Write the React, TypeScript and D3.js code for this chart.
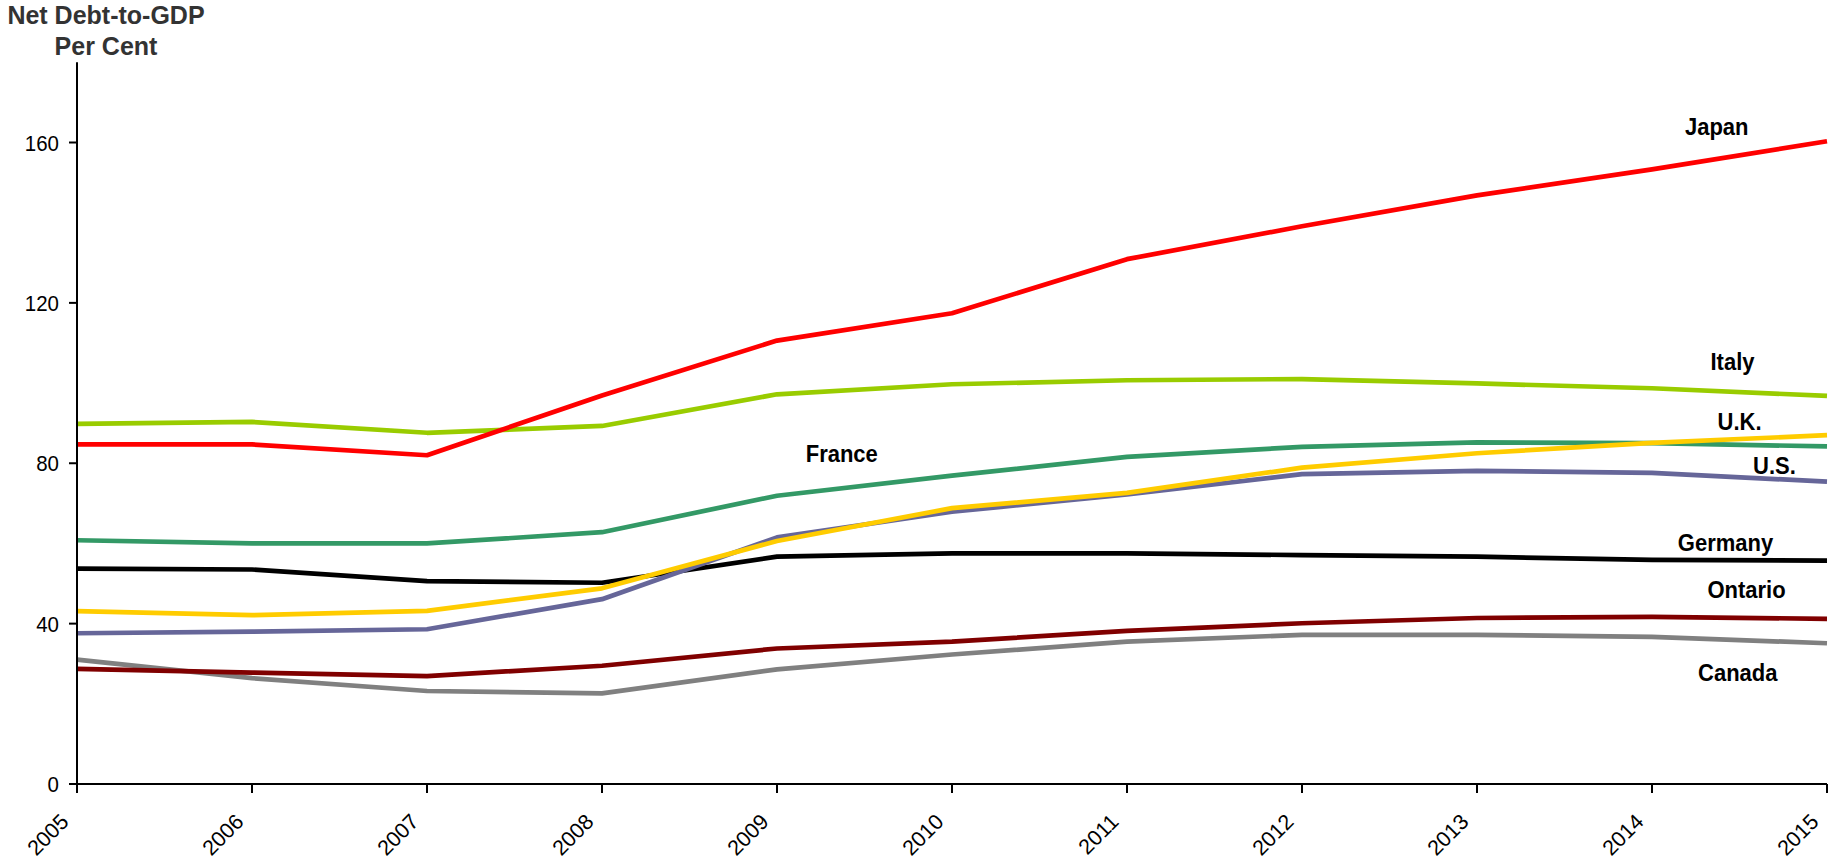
import React from "react";
import * as d3 from "d3";

// Net debt-to-GDP, per cent of GDP, 2005–2015
const years = [2005, 2006, 2007, 2008, 2009, 2010, 2011, 2012, 2013, 2014, 2015];

const canada = [31.0, 26.4, 23.2, 22.6, 28.6, 32.3, 35.5, 37.2, 37.2, 36.7, 35.1];
const ontario = [28.7, 27.8, 26.9, 29.5, 33.8, 35.5, 38.2, 40.1, 41.4, 41.7, 41.2];
const germany = [53.7, 53.5, 50.6, 50.2, 56.7, 57.5, 57.5, 57.1, 56.7, 55.9, 55.7];
const us = [37.6, 38.0, 38.6, 46.1, 61.5, 67.9, 72.2, 77.3, 78.1, 77.6, 75.4];
const france = [60.8, 60.0, 60.0, 62.8, 71.9, 76.9, 81.6, 84.1, 85.2, 85.0, 84.2];
const uk = [43.1, 42.1, 43.2, 48.8, 60.6, 68.8, 72.6, 78.9, 82.5, 85.1, 87.0];
const italy = [89.8, 90.3, 87.6, 89.3, 97.2, 99.7, 100.7, 101.0, 99.9, 98.7, 96.8];
const japan = [84.7, 84.7, 82.0, 96.9, 110.6, 117.4, 130.9, 139.1, 146.8, 153.3, 160.3];

const yTicks = [0, 40, 80, 120, 160];

type Series = {
  name: string;
  values: number[];
  color: string;
  // label placement in data space: year position and value
  labelYear: number;
  labelValue: number;
};

const series: Series[] = [
  { name: "Canada", values: canada, color: "#808080", labelYear: 2014.49, labelValue: 25.7 },
  { name: "Ontario", values: ontario, color: "#800000", labelYear: 2014.54, labelValue: 46.4 },
  { name: "Germany", values: germany, color: "#000000", labelYear: 2014.42, labelValue: 58.1 },
  { name: "U.S.", values: us, color: "#666699", labelYear: 2014.7, labelValue: 77.3 },
  { name: "France", values: france, color: "#339966", labelYear: 2009.37, labelValue: 80.4 },
  { name: "U.K.", values: uk, color: "#FFCC00", labelYear: 2014.5, labelValue: 88.3 },
  { name: "Italy", values: italy, color: "#99CC00", labelYear: 2014.46, labelValue: 103.2 },
  { name: "Japan", values: japan, color: "#FF0000", labelYear: 2014.37, labelValue: 161.8 },
];

const W = 1829;
const H = 862;
const left = 77;
const right = 1827;
const bottom = 784;
const yMax = 180;
const topY = bottom - (yMax / 160) * 641.5;

const font = "'Liberation Sans', Arial, Helvetica, sans-serif";

export default function App() {
  const x = d3.scaleLinear().domain([2005, 2015]).range([left, right]);
  const y = d3.scaleLinear().domain([0, yMax]).range([bottom, topY]);

  const line = d3
    .line<number>()
    .x((_, i) => x(years[i]))
    .y((d) => y(d));

  return (
    <svg
      width={W}
      height={H}
      style={{ position: "absolute", left: 0, top: 0, background: "#fff" }}
      fontFamily={font}
    >
      <rect x={0} y={0} width={W} height={H} fill="#fff" />

      {/* title */}
      <text textAnchor="middle" fontWeight="bold" fontSize={25} fill="#333">
        <tspan x={106} y={24}>Net Debt-to-GDP</tspan>
        <tspan x={106} y={55}>Per Cent</tspan>
      </text>

      {/* series lines */}
      {series.map((s) => (
        <path
          key={s.name}
          d={line(s.values) ?? ""}
          fill="none"
          stroke={s.color}
          strokeWidth={4.7}
          strokeLinejoin="round"
          strokeLinecap="butt"
        />
      ))}

      {/* series labels */}
      {series.map((s) => (
        <text
          key={s.name + "-label"}
          transform={`translate(${x(s.labelYear)},${y(s.labelValue)}) scale(1,1.06)`}
          textAnchor="middle"
          fontWeight="bold"
          fontSize={22}
          fill="#000"
        >
          {s.name}
        </text>
      ))}

      {/* y axis */}
      <line x1={left} x2={left} y1={topY} y2={bottom} stroke="#000" strokeWidth={2} />
      {yTicks.map((t) => (
        <g key={"y" + t}>
          <line x1={left - 8} x2={left} y1={y(t)} y2={y(t)} stroke="#000" strokeWidth={2} />
          <text
            transform={`translate(${left - 18},${y(t)}) scale(1,1.12)`}
            dy="0.35em"
            textAnchor="end"
            fontSize={20.5}
            fill="#000"
          >
            {t}
          </text>
        </g>
      ))}

      {/* x axis */}
      <line x1={left} x2={right} y1={bottom} y2={bottom} stroke="#000" strokeWidth={2} />
      {years.map((yr) => (
        <g key={"x" + yr}>
          <line x1={x(yr)} x2={x(yr)} y1={bottom} y2={bottom + 9} stroke="#000" strokeWidth={2} />
          <text
            transform={`translate(${x(yr) - 7},${bottom + 39}) rotate(-45)`}
            textAnchor="end"
            fontSize={21.5}
            fill="#000"
          >
            {yr}
          </text>
        </g>
      ))}
    </svg>
  );
}
